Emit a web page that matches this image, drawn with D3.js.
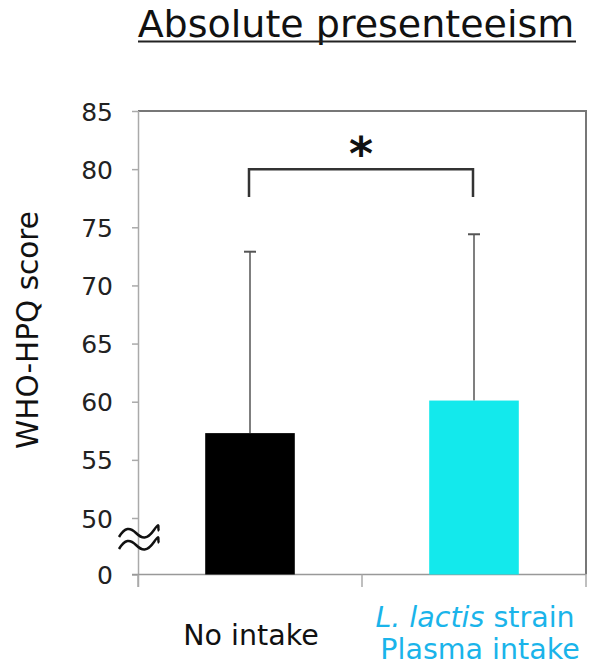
<!DOCTYPE html>
<html>
<head>
<meta charset="utf-8">
<script src="https://cdn.jsdelivr.net/npm/d3@7"></script>
<style>
  body { margin: 0; background: #fff; }
  svg { display: block; font-family: "DejaVu Sans", Verdana, sans-serif; }
</style>
</head>
<body>
<svg id="chart" width="600" height="668"></svg>
<script>
// chart values
var categories = ["No intake", "Plasma"];
var means = [57.3, 60.1];
var upperSD = [72.9, 74.4];
var barColors = ["#000000", "#13e9ec"];
var yTicks = [0, 50, 55, 60, 65, 70, 75, 80, 85];
var titleText = "Absolute presenteeism";
var yLabel = "WHO-HPQ score";

var svg = d3.select("#chart");

// broken axis: 0 sits one step below 50
var y = d3.scaleLinear().domain([0, 50, 85]).range([574.5, 518, 111]);
var x = d3.scaleBand().domain(categories).range([138, 586])
    .paddingInner(0.6).paddingOuter(0.3);

// title
svg.append("text")
    .attr("x", 356).attr("y", 37)
    .attr("text-anchor", "middle")
    .attr("font-size", 38)
    .attr("fill", "#111")
    .text(titleText);
svg.append("line")
    .attr("x1", 138).attr("x2", 576).attr("y1", 41.5).attr("y2", 41.5)
    .attr("stroke", "#222").attr("stroke-width", 2);

// frame top + right
svg.append("path")
    .attr("d", "M138," + y(85) + "H586V" + y(0))
    .attr("fill", "none").attr("stroke", "#777").attr("stroke-width", 2);

// y axis
var yAxis = svg.append("g")
    .attr("transform", "translate(138,0)")
    .call(d3.axisLeft(y).tickValues(yTicks).tickSize(6).tickPadding(19));
yAxis.select(".domain").remove();
yAxis.selectAll(".tick line").attr("stroke", "#aaa").attr("stroke-width", 1.5);
yAxis.selectAll(".tick text")
    .attr("font-size", 25)
    .attr("font-family", "DejaVu Sans, sans-serif")
    .attr("fill", "#222")
    .attr("dy", "0.36em");
svg.append("line")
    .attr("x1", 138.5).attr("x2", 138.5).attr("y1", y(85)).attr("y2", 587)
    .attr("stroke", "#aaa").attr("stroke-width", 1.5);

// x axis
svg.append("line")
    .attr("x1", 132).attr("x2", 586).attr("y1", y(0)).attr("y2", y(0))
    .attr("stroke", "#999").attr("stroke-width", 1.5);
svg.selectAll(".xtick").data([138, 362, 586]).enter().append("line")
    .attr("x1", function(d) { return d; }).attr("x2", function(d) { return d; })
    .attr("y1", y(0)).attr("y2", 587)
    .attr("stroke", "#aaa").attr("stroke-width", 1.5);

// y label
svg.append("text")
    .attr("transform", "translate(38,330) rotate(-90)")
    .attr("text-anchor", "middle")
    .attr("font-size", 29.5)
    .attr("fill", "#111")
    .text(yLabel);

// error bars (upper only)
var eb = svg.selectAll(".eb").data(categories).enter().append("g");
eb.append("line")
    .attr("x1", function(d) { return x(d) + x.bandwidth() / 2; })
    .attr("x2", function(d) { return x(d) + x.bandwidth() / 2; })
    .attr("y1", function(d, i) { return y(means[i]); })
    .attr("y2", function(d, i) { return y(upperSD[i]); })
    .attr("stroke", "#555").attr("stroke-width", 1.5);
eb.append("line")
    .attr("x1", function(d) { return x(d) + x.bandwidth() / 2 - 6; })
    .attr("x2", function(d) { return x(d) + x.bandwidth() / 2 + 6; })
    .attr("y1", function(d, i) { return y(upperSD[i]); })
    .attr("y2", function(d, i) { return y(upperSD[i]); })
    .attr("stroke", "#555").attr("stroke-width", 2);

// bars
svg.selectAll(".bar").data(categories).enter().append("rect")
    .attr("x", function(d) { return x(d); })
    .attr("width", x.bandwidth())
    .attr("y", function(d, i) { return y(means[i]); })
    .attr("height", function(d, i) { return y(0) - y(means[i]); })
    .attr("fill", function(d, i) { return barColors[i]; });

// axis break mark
var wave = "M0,7 C6,-3 11,-3 17,3 S28,10 35,0 38,-1 40,1";
[533, 545].forEach(function(yy) {
    svg.append("path")
        .attr("transform", "translate(119," + (yy - 3) + ")")
        .attr("d", wave)
        .attr("fill", "none").attr("stroke", "#111").attr("stroke-width", 2.5);
});

// significance bracket
var c0 = x(categories[0]) + x.bandwidth() / 2 - 1;
var c1 = x(categories[1]) + x.bandwidth() / 2 - 1;
svg.append("path")
    .attr("d", "M" + c0 + ",197V" + y(80) + "H" + c1 + "V197")
    .attr("fill", "none").attr("stroke", "#333").attr("stroke-width", 2.5);
svg.append("text")
    .attr("x", (c0 + c1) / 2).attr("y", 170)
    .attr("text-anchor", "middle")
    .attr("font-size", 46).attr("font-weight", "bold")
    .attr("fill", "#111")
    .text("*");

// category labels
svg.append("text")
    .attr("x", x(categories[0]) + x.bandwidth() / 2 + 1).attr("y", 645)
    .attr("text-anchor", "middle")
    .attr("font-size", 28.5).attr("fill", "#111")
    .text("No intake");
var lab = svg.append("text")
    .attr("text-anchor", "middle")
    .attr("font-size", 28.5).attr("fill", "#1ab4ea");
var t1 = lab.append("tspan").attr("x", 475).attr("y", 627);
t1.append("tspan").attr("font-style", "italic").text("L. lactis");
t1.append("tspan").text(" strain");
lab.append("tspan").attr("x", 480).attr("y", 659).text("Plasma intake");
</script>
</body>
</html>
